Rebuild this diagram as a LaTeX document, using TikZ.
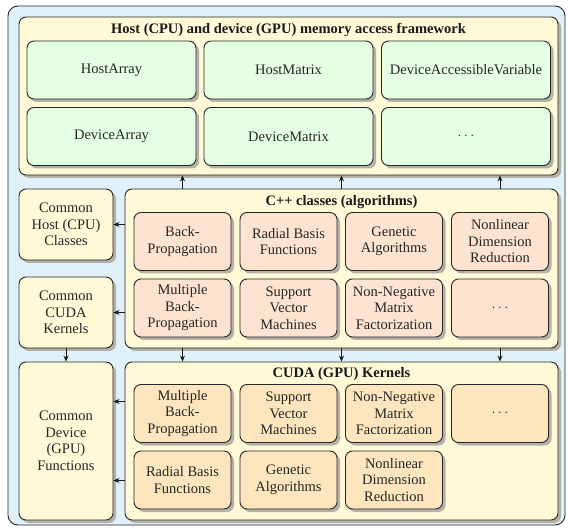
\documentclass[tikz,border=0pt]{standalone}
\usepackage{fontspec}
\setmainfont{Liberation Serif}
\usetikzlibrary{arrows.meta,shadows}
\definecolor{outerbg}{HTML}{E1F1FA}
\definecolor{creambg}{HTML}{FFF9D8}
\definecolor{greenbg}{HTML}{E5FFE5}
\definecolor{salmonbg}{HTML}{FDE3D0}
\definecolor{peachbg}{HTML}{FDE5BE}
\definecolor{shadowc}{HTML}{B4B2A6}
\tikzset{
  x=1pt, y=-1pt,
  basebox/.style={draw=black!85, line width=0.9pt, rounded corners=7pt, inner sep=1pt, align=center,
    font=\fontsize{14.5}{16.5}\selectfont, text=black!85,
    drop shadow={shadow xshift=3pt, shadow yshift=-3pt, fill=shadowc, opacity=1}},
  groupbox/.style={basebox, fill=creambg},
  greenbox/.style={basebox, fill=greenbg, minimum width=169pt, minimum height=58pt},
  cppbox/.style={basebox, fill=salmonbg, minimum width=97pt, minimum height=58pt},
  cudabox/.style={basebox, fill=peachbg, minimum width=97pt, minimum height=58pt},
  sidebox/.style={basebox, fill=creambg, minimum width=94pt},
  titletext/.style={font=\fontsize{14.5}{16.5}\selectfont\bfseries, text=black!90, inner sep=0pt},
  conn/.style={draw=black!90, line width=0.8pt, -{Stealth[length=6pt,width=5pt]}}
}
\begin{document}
\begin{tikzpicture}
\useasboundingbox (0,0) rectangle (568,529);
% outer
\node[draw=black!85, line width=0.9pt, rounded corners=10pt, fill=outerbg, minimum width=557pt, minimum height=519pt, inner sep=0pt] (outer) at (286.5,265.5) {};
% framework
\node[groupbox, minimum width=539pt, minimum height=158pt] (fw) at (288.5,96) {};
\node[titletext] (fwt) at (288.5,30) {Host (CPU) and device (GPU) memory access framework};
\node[greenbox] (g1) at (111.5,70) {HostArray};
\node[greenbox] (g2) at (288.5,70) {HostMatrix};
\node[greenbox] (g3) at (466,70) {DeviceAccessibleVariable};
\node[greenbox] (g4) at (111.5,136.5) {DeviceArray};
\node[greenbox] (g5) at (288.5,136.5) {DeviceMatrix};
\node[greenbox] (g6) at (466,136.5) {$\cdots$};
% left column
\node[sidebox, minimum height=71pt] (host) at (66,224.5) {Common\\Host (CPU)\\Classes};
\node[sidebox, minimum height=71pt] (cudak) at (66,312.5) {Common\\CUDA\\Kernels};
\node[sidebox, minimum height=158pt] (dev) at (66,441) {Common\\Device\\(GPU)\\Functions};
% C++ classes
\node[groupbox, minimum width=433pt, minimum height=159pt] (cpp) at (341.5,268.5) {};
\node[titletext] (cppt) at (341.5,202) {C++ classes (algorithms)};
\node[cppbox] (c1) at (182.5,241.5) {Back-\\Propagation};
\node[cppbox] (c2) at (288.5,241.5) {Radial Basis\\Functions};
\node[cppbox] (c3) at (394,241.5) {Genetic\\Algorithms};
\node[cppbox] (c4) at (500,241.5) {Nonlinear\\Dimension\\Reduction};
\node[cppbox] (c5) at (182.5,308) {Multiple\\Back-\\Propagation};
\node[cppbox] (c6) at (288.5,308) {Support\\Vector\\Machines};
\node[cppbox] (c7) at (394,308) {Non-Negative\\Matrix\\Factorization};
\node[cppbox] (c8) at (500,308) {$\cdots$};
% CUDA kernels
\node[groupbox, minimum width=433pt, minimum height=158pt] (cuda) at (341.5,441) {};
\node[titletext] (cudat) at (341.5,374) {CUDA (GPU) Kernels};
\node[cudabox] (k1) at (182.5,413.5) {Multiple\\Back-\\Propagation};
\node[cudabox] (k2) at (288.5,413.5) {Support\\Vector\\Machines};
\node[cudabox] (k3) at (394,413.5) {Non-Negative\\Matrix\\Factorization};
\node[cudabox] (k4) at (500,413.5) {$\cdots$};
\node[cudabox] (k5) at (182.5,480) {Radial Basis\\Functions};
\node[cudabox] (k6) at (288.5,480) {Genetic\\Algorithms};
\node[cudabox] (k7) at (394,480) {Nonlinear\\Dimension\\Reduction};
% connectors
\foreach \c in {c1,cpp,c4}{
  \draw[conn] (cpp.north -| \c) -- (fw.south -| \c);
  \draw[conn] (cpp.south -| \c) -- (cuda.north -| \c);
}
\draw[conn] (cpp.west |- host.east) -- (host.east);
\draw[conn] (cpp.west |- cudak.east) -- (cudak.east);
\draw[conn] (cudak.south) -- (dev.north);
\coordinate (q1) at (0,401.5);
\coordinate (q2) at (0,480.5);
\draw[conn] (cuda.west |- q1) -- (dev.east |- q1);
\draw[conn] (cuda.west |- q2) -- (dev.east |- q2);
\end{tikzpicture}
\end{document}
